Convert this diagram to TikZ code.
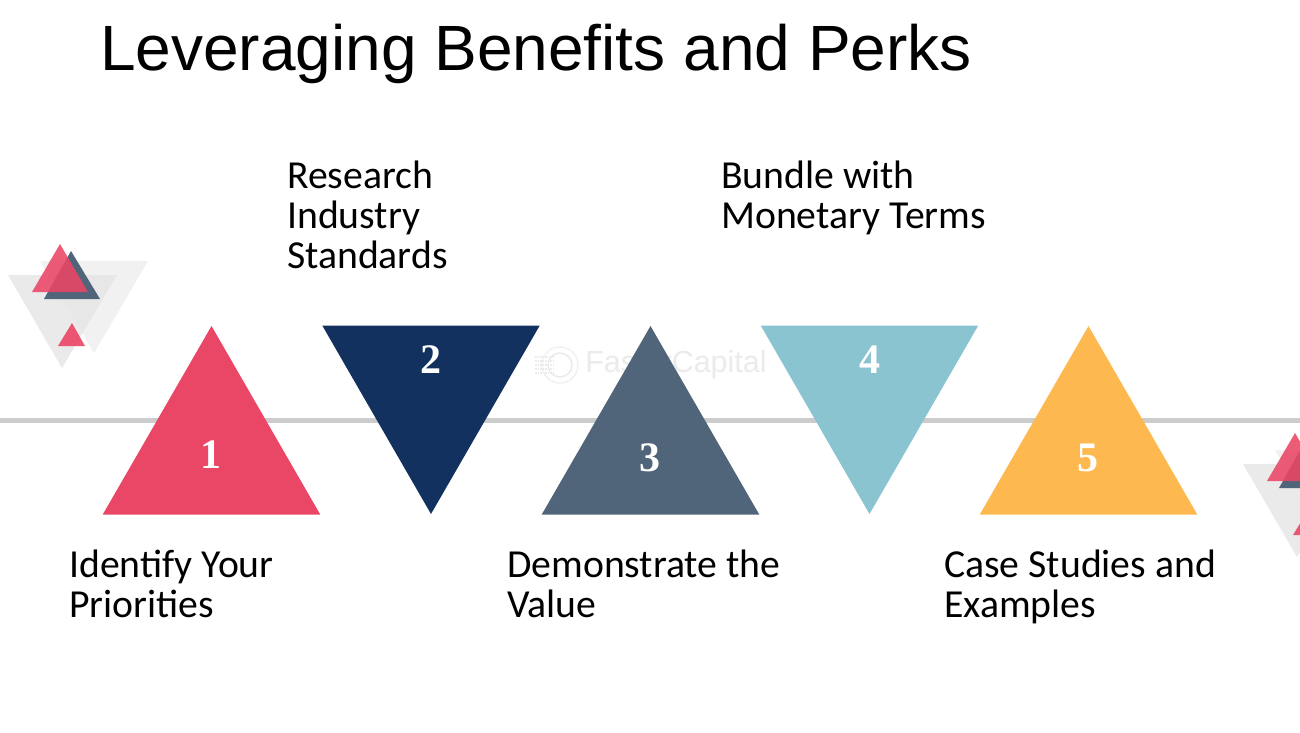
\documentclass[tikz,border=0pt]{standalone}
\usepackage{fontspec}
\setmainfont{Liberation Sans}
\newfontfamily\bodyfont{Carlito}
\newfontfamily\numfont{Liberation Serif}
\definecolor{pinktri}{HTML}{EA4665}
\definecolor{navytri}{HTML}{12315F}
\definecolor{slatetri}{HTML}{506579}
\definecolor{tealtri}{HTML}{8AC4D0}
\definecolor{ambertri}{HTML}{FDB94F}
\tikzset{
	numlabel/.style={text=white,font=\numfont\bfseries\fontsize{42}{42}\selectfont,inner sep=0pt},
	steplabel/.style={anchor=north west,align=left,inner sep=0pt,font=\bodyfont\fontsize{39.7}{40}\selectfont},
	% small triangles group at the sides
	deco/.pic={
		\fill[black!10,opacity=.8] (8,275) -- (117,275) -- (62,368) -- cycle;
		\fill[black!10,opacity=.5] (40,261) -- (148,261) -- (94,353) -- cycle;
		\fill[slatetri] (71,251) -- (44,299) -- (100,299) -- cycle;
		\fill[pinktri,opacity=.88] (60,244) -- (32,292) -- (88,292) -- cycle;
		\fill[pinktri,opacity=.9] (72,323) -- (58,346) -- (85,346) -- cycle;
	}
}
\begin{document}
\begin{tikzpicture}[x=1pt,y=-1pt]
	\clip (0,0) rectangle (1300,732);
	\fill[white] (0,0) rectangle (1300,732);
	% middle line
	\fill[black!20] (0,418) rectangle (1300,423);
	% faint watermark
	\node[text=black!8,font=\fontsize{30.5}{30.5}\selectfont,inner sep=0pt] (mark) at (676,365) {FasterCapital};
	\draw[black!8,line width=1.5pt,densely dotted] (560,365) circle (18);
	\draw[black!8,line width=1.5pt] (560,365) circle (12);
	\foreach \y in {357,361,365,369,373}{
		\draw[black!8,line width=1.5pt,densely dotted] (535,\y) -- (553,\y);
	}
	% triangles up
	\foreach \x/\c in {211.5/pinktri,650.5/slatetri,1088.5/ambertri}{
		\fill[\c] (\x-108.75,514.5) -- (\x+108.75,514.5) -- (\x,326) -- cycle;
	}
	% triangles down
	\foreach \x/\c in {431/navytri,869.5/tealtri}{
		\fill[\c] (\x-108.75,325.5) -- (\x+108.75,325.5) -- (\x,514) -- cycle;
	}
	% numbers
	\foreach \n/\x/\y in {1/211/455,2/431/360,3/650/458,4/870/360,5/1088/458}{
		\node[numlabel] (num\n) at (\x,\y) {\n};
	}
	% side decorations
	\pic at (0,0) {deco};
	\pic at (1235,189) {deco};
	% title and labels
	\node[anchor=base west,inner sep=0pt,font=\fontsize{64}{64}\selectfont] (title) at (100,70) {Leveraging Benefits and Perks};
	\node[steplabel] (lab1) at (69,549.5) {Identify Your\\Priorities};
	\node[steplabel] (lab2) at (287,160.5) {Research\\Industry\\Standards};
	\node[steplabel] (lab3) at (507,549.5) {Demonstrate the\\Value};
	\node[steplabel] (lab4) at (721,160.5) {Bundle with\\Monetary Terms};
	\node[steplabel] (lab5) at (944,549.5) {Case Studies and\\Examples};
\end{tikzpicture}
\end{document}
